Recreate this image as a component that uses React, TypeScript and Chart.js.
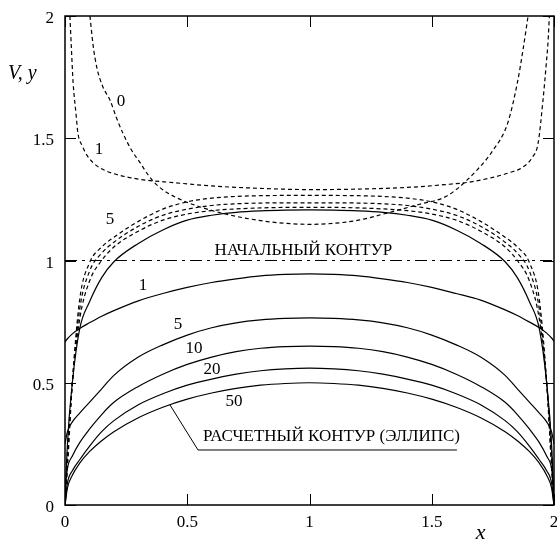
import React, { useEffect, useRef } from "react";
import { Chart, registerables } from "chart.js";

Chart.register(...registerables);

// Common abscissa grid for the contour iterations and the surface-velocity curves
const X_GRID = [0, 0.01, 0.03, 0.06, 0.1, 0.15, 0.2, 0.3, 0.4, 0.5, 0.6, 0.7, 0.8, 0.9, 1.0, 1.1, 1.2, 1.3, 1.4, 1.5, 1.6, 1.7, 1.8, 1.85, 1.9, 1.94, 1.97, 1.99, 2.0];

// Contour y(x) after 1, 5, 10, 20 and 50 iterations (50 = computed ellipse)
const Y_ITER_1 = [0.667, 0.68, 0.7, 0.722, 0.745, 0.772, 0.795, 0.835, 0.865, 0.89, 0.91, 0.925, 0.937, 0.943, 0.945, 0.943, 0.937, 0.925, 0.91, 0.89, 0.865, 0.838, 0.798, 0.775, 0.748, 0.725, 0.703, 0.683, 0.67];
const Y_ITER_5 = [0.25, 0.3, 0.34, 0.376, 0.42, 0.475, 0.53, 0.605, 0.655, 0.695, 0.725, 0.745, 0.757, 0.763, 0.765, 0.763, 0.757, 0.745, 0.725, 0.695, 0.655, 0.605, 0.53, 0.475, 0.42, 0.376, 0.34, 0.3, 0.25];
const Y_ITER_10 = [0.06, 0.15, 0.2, 0.255, 0.31, 0.37, 0.42, 0.485, 0.535, 0.575, 0.605, 0.627, 0.641, 0.648, 0.65, 0.648, 0.641, 0.627, 0.605, 0.575, 0.535, 0.485, 0.42, 0.37, 0.31, 0.255, 0.2, 0.15, 0.06];
const Y_ITER_20 = [0, 0.09, 0.14, 0.185, 0.24, 0.3, 0.345, 0.41, 0.455, 0.49, 0.515, 0.535, 0.549, 0.557, 0.56, 0.557, 0.549, 0.535, 0.515, 0.49, 0.455, 0.41, 0.345, 0.3, 0.24, 0.185, 0.14, 0.09, 0];
const Y_ITER_50 = [0, 0.07, 0.122, 0.171, 0.218, 0.263, 0.3, 0.357, 0.4, 0.433, 0.458, 0.477, 0.49, 0.497, 0.5, 0.497, 0.49, 0.477, 0.458, 0.433, 0.4, 0.357, 0.3, 0.263, 0.218, 0.171, 0.122, 0.07, 0];

// Surface velocity V(x): exact solution (solid) and iterations 5, 10, 20 (dashed)
const V_EXACT = [0, 0.25, 0.5, 0.72, 0.83, 0.93, 0.995, 1.07, 1.125, 1.165, 1.185, 1.197, 1.203, 1.206, 1.207, 1.206, 1.203, 1.197, 1.185, 1.165, 1.125, 1.07, 0.995, 0.93, 0.83, 0.72, 0.5, 0.25, 0];
const V_ITER_5 = [0, 0.15, 0.5, 0.84, 0.99, 1.055, 1.095, 1.16, 1.21, 1.24, 1.255, 1.262, 1.265, 1.266, 1.266, 1.266, 1.265, 1.262, 1.255, 1.24, 1.21, 1.16, 1.095, 1.055, 0.99, 0.84, 0.5, 0.15, 0];
const V_ITER_10 = [0, 0.18, 0.5, 0.8, 0.955, 1.03, 1.075, 1.14, 1.185, 1.21, 1.225, 1.232, 1.235, 1.236, 1.236, 1.236, 1.235, 1.232, 1.225, 1.21, 1.185, 1.14, 1.075, 1.03, 0.955, 0.8, 0.5, 0.18, 0];
const V_ITER_20 = [0, 0.22, 0.5, 0.76, 0.915, 1.0, 1.055, 1.12, 1.165, 1.19, 1.204, 1.211, 1.215, 1.217, 1.217, 1.217, 1.215, 1.211, 1.204, 1.19, 1.165, 1.12, 1.055, 1.0, 0.915, 0.76, 0.5, 0.22, 0];

// Velocity on the initial contour (iteration 0) and after iteration 1
const V0_X = [0.102, 0.115, 0.13, 0.155, 0.184, 0.21, 0.237, 0.27, 0.307, 0.34, 0.38, 0.45, 0.55, 0.675, 0.8, 0.9, 1.0, 1.1, 1.2, 1.317, 1.45, 1.546, 1.6, 1.685, 1.75, 1.81, 1.85, 1.873, 1.894];
const V0_Y = [2.0, 1.88, 1.79, 1.71, 1.656, 1.585, 1.52, 1.455, 1.4, 1.35, 1.305, 1.26, 1.22, 1.186, 1.163, 1.152, 1.148, 1.152, 1.165, 1.194, 1.23, 1.256, 1.29, 1.37, 1.45, 1.56, 1.726, 1.86, 2.0];
const V1_X = [0.02, 0.027, 0.033, 0.045, 0.053, 0.07, 0.09, 0.115, 0.15, 0.2, 0.3, 0.45, 0.6, 0.8, 1.0, 1.2, 1.42, 1.55, 1.65, 1.75, 1.82, 1.87, 1.91, 1.935, 1.955, 1.968, 1.976, 1.981];
const V1_Y = [2.0, 1.85, 1.73, 1.6, 1.52, 1.47, 1.43, 1.4, 1.375, 1.355, 1.333, 1.318, 1.305, 1.295, 1.29, 1.292, 1.3, 1.31, 1.32, 1.34, 1.36, 1.38, 1.42, 1.48, 1.656, 1.8, 1.9, 2.0];

// Initial contour (straight line y = 1)
const INITIAL_X = [0, 2];
const INITIAL_Y = [1, 1];

const X_TICKS = [0, 0.5, 1, 1.5, 2];
const Y_TICKS = [0, 0.5, 1, 1.5, 2];

const CURVE_LABELS = [
  { text: "0", x: 0.229, y: 1.652 },
  { text: "1", x: 0.139, y: 1.452 },
  { text: "5", x: 0.184, y: 1.166 },
  { text: "1", x: 0.319, y: 0.896 },
  { text: "5", x: 0.462, y: 0.74 },
  { text: "10", x: 0.528, y: 0.638 },
  { text: "20", x: 0.601, y: 0.556 },
  { text: "50", x: 0.691, y: 0.425 },
];

const INITIAL_LABEL = { text: "НАЧАЛЬНЫЙ КОНТУР", x: 0.975, y: 1.039 };
const ELLIPSE_LABEL = { text: "РАСЧЕТНЫЙ КОНТУР (ЭЛЛИПС)", x: 0.564, y: 0.282 };
const ELLIPSE_LEADER = { x0: 0.429, y0: 0.41, x1: 0.544, y1: 0.225, x2: 1.603 };

const SERIF = "'Liberation Serif', 'Times New Roman', 'DejaVu Serif', serif";
const TEXT_FONT = `17px ${SERIF}`;
const TITLE_FONT = `italic 20px ${SERIF}`;
const X_TITLE_FONT = `italic 22px ${SERIF}`;

const pts = (xs: number[], ys: number[]) => xs.map((x, i) => ({ x, y: ys[i] }));

const SOLID = { borderColor: "#000", borderWidth: 1.2, pointRadius: 0, borderDash: [] as number[] };
const DASHED = { borderColor: "#000", borderWidth: 1.2, pointRadius: 0, borderDash: [4, 3] };
const DASH_DOT = { borderColor: "#000", borderWidth: 1.2, pointRadius: 0, borderDash: [12, 5, 3, 5] };

const framePlugin = {
  id: "frameAndText",
  beforeDraw(chart: any) {
    const { ctx, width, height } = chart;
    ctx.save();
    ctx.fillStyle = "#fff";
    ctx.fillRect(0, 0, width, height);
    ctx.restore();
  },
  afterDatasetsDraw(chart: any) {
    const { ctx, chartArea } = chart;
    const { left, right, top, bottom } = chartArea;
    const xs = chart.scales.x;
    const ys = chart.scales.y;
    const px = (v: number) => xs.getPixelForValue(v);
    const py = (v: number) => ys.getPixelForValue(v);

    ctx.save();
    ctx.strokeStyle = "#000";
    ctx.setLineDash([]);

    // plot frame
    ctx.lineWidth = 1.5;
    ctx.strokeRect(left, top, right - left, bottom - top);

    // inward tick marks on all four sides
    ctx.lineWidth = 1;
    const TL = 11;
    ctx.beginPath();
    for (const v of X_TICKS) {
      const x = Math.round(px(v)) + 0.5;
      ctx.moveTo(x, bottom);
      ctx.lineTo(x, bottom - TL);
      ctx.moveTo(x, top);
      ctx.lineTo(x, top + TL);
    }
    for (const v of Y_TICKS) {
      const y = Math.round(py(v)) + 0.5;
      ctx.moveTo(left, y);
      ctx.lineTo(left + TL, y);
      ctx.moveTo(right, y);
      ctx.lineTo(right - TL, y);
    }
    ctx.stroke();

    // tick labels
    ctx.fillStyle = "#000";
    ctx.font = TEXT_FONT;
    ctx.textBaseline = "alphabetic";
    ctx.textAlign = "center";
    for (const v of X_TICKS) ctx.fillText(String(v), px(v), bottom + 22);
    ctx.textAlign = "right";
    for (const v of Y_TICKS) ctx.fillText(String(v), left - 11, py(v) + 7);

    // axis titles
    ctx.font = TITLE_FONT;
    ctx.textAlign = "left";
    ctx.fillText("V, y", 8, py(1.771) + 7);
    ctx.font = X_TITLE_FONT;
    ctx.textAlign = "center";
    ctx.fillText("x", px(1.7), bottom + 34);

    // curve labels
    ctx.font = TEXT_FONT;
    ctx.textAlign = "center";
    ctx.textBaseline = "middle";
    for (const l of CURVE_LABELS) ctx.fillText(l.text, px(l.x), py(l.y));
    ctx.fillText(INITIAL_LABEL.text, px(INITIAL_LABEL.x), py(INITIAL_LABEL.y));
    ctx.textAlign = "left";
    ctx.fillText(ELLIPSE_LABEL.text, px(ELLIPSE_LABEL.x), py(ELLIPSE_LABEL.y));

    // leader line and underline for the computed contour
    ctx.beginPath();
    ctx.moveTo(px(ELLIPSE_LEADER.x0), py(ELLIPSE_LEADER.y0));
    ctx.lineTo(px(ELLIPSE_LEADER.x1), py(ELLIPSE_LEADER.y1));
    ctx.lineTo(px(ELLIPSE_LEADER.x2), py(ELLIPSE_LEADER.y1));
    ctx.stroke();

    ctx.restore();
  },
};

export default function App() {
  const canvasRef = useRef<HTMLCanvasElement | null>(null);

  useEffect(() => {
    const canvas = canvasRef.current;
    if (!canvas) return;
    let chart: Chart | null = null;
    let cancelled = false;

    const line = (data: { x: number; y: number }[], style: any) => ({
      data,
      ...style,
      fill: false,
      showLine: true,
      cubicInterpolationMode: "monotone",
    });

    const build = () => {
      if (cancelled) return;
      chart = new Chart(canvas, {
        type: "scatter",
        data: {
          datasets: [
            line(pts(INITIAL_X, INITIAL_Y), DASH_DOT),
            line(pts(V0_X, V0_Y), DASHED),
            line(pts(V1_X, V1_Y), DASHED),
            line(pts(X_GRID, V_ITER_5), DASHED),
            line(pts(X_GRID, V_ITER_10), DASHED),
            line(pts(X_GRID, V_ITER_20), DASHED),
            line(pts(X_GRID, V_EXACT), SOLID),
            line(pts(X_GRID, Y_ITER_1), SOLID),
            line(pts(X_GRID, Y_ITER_5), SOLID),
            line(pts(X_GRID, Y_ITER_10), SOLID),
            line(pts(X_GRID, Y_ITER_20), SOLID),
            line(pts(X_GRID, Y_ITER_50), SOLID),
          ] as any,
        },
        options: {
          responsive: false,
          animation: false,
          devicePixelRatio: 1,
          layout: { padding: { left: 65, top: 16, right: 3, bottom: 37 } },
          plugins: { legend: { display: false }, tooltip: { enabled: false } },
          scales: {
            x: { type: "linear", min: 0, max: 2, display: false },
            y: { type: "linear", min: 0, max: 2, display: false },
          },
        },
        plugins: [framePlugin],
      });
    };

    const fonts = (document as any).fonts;
    if (fonts && fonts.load) {
      Promise.all([
        fonts.load(TEXT_FONT, "НАЧАЛЬНЫЙ 0123"),
        fonts.load(TITLE_FONT, "V, y"),
        fonts.load(X_TITLE_FONT, "x"),
      ])
        .catch(() => undefined)
        .then(build);
    } else {
      build();
    }

    return () => {
      cancelled = true;
      if (chart) chart.destroy();
    };
  }, []);

  return (
    <div style={{ position: "fixed", left: 0, top: 0, width: 557, height: 542, background: "#fff" }}>
      <canvas ref={canvasRef} width={557} height={542} style={{ display: "block" }} />
    </div>
  );
}
